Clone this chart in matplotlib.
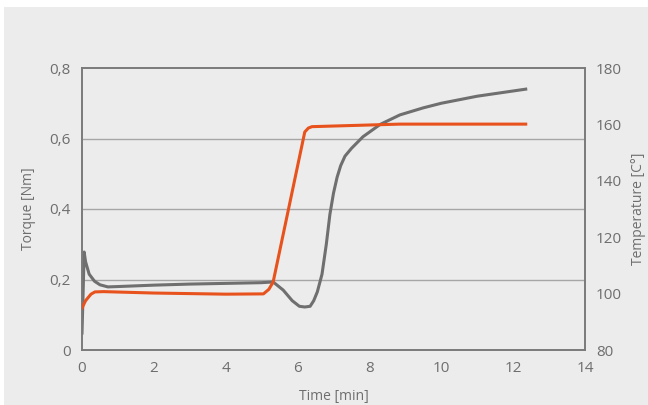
import matplotlib.pyplot as plt
from matplotlib.patches import Rectangle

plt.rcParams["font.family"] = ["Open Sans", "DejaVu Sans"]

# Torque curve (left axis)
torque_t = [0.0, 0.03, 0.06, 0.1, 0.2, 0.35, 0.5, 0.72, 1.0, 2.0, 3.0, 4.0, 5.0, 5.32,
            5.6, 5.85, 6.05, 6.2, 6.35, 6.45, 6.55, 6.68, 6.8, 6.9, 7.0, 7.1, 7.2,
            7.32, 7.5, 7.82, 8.3, 8.85, 9.5, 10.0, 11.0, 12.35]
torque_v = [0.048, 0.16, 0.278, 0.25, 0.215, 0.195, 0.185, 0.179, 0.18, 0.184, 0.187,
            0.189, 0.191, 0.193, 0.17, 0.14, 0.124, 0.122, 0.124, 0.14, 0.165, 0.215,
            0.3, 0.385, 0.445, 0.49, 0.523, 0.55, 0.572, 0.605, 0.64, 0.667, 0.687,
            0.70, 0.72, 0.74]

# Temperature curve (right axis)
temp_t = [0.0, 0.1, 0.25, 0.36, 0.6, 2.0, 4.0, 5.05, 5.2, 5.32, 6.2, 6.3, 6.4, 8.85, 12.35]
temp_v = [94.9, 97.5, 99.8, 100.6, 100.7, 100.2, 99.8, 99.9, 101.5, 104.1, 157.3,
          158.7, 159.2, 160.1, 160.1]

text_col = "#6e6e6e"
fig = plt.figure(figsize=(6.48, 4.05), dpi=100, facecolor="white")
fig.patches.append(Rectangle((4 / 648, 0), 1, 1 - 7 / 405, transform=fig.transFigure,
                             facecolor="#ececec", edgecolor="none", zorder=-10))

ax = fig.add_axes([82 / 648, 1 - 350 / 405, (585 - 82) / 648, (350 - 68) / 405])
ax.set_facecolor("#ececec")
ax.plot(torque_t, torque_v, color="#6f6f6f", lw=2.2, zorder=3)
ax.set_xlim(0, 14)
ax.set_ylim(0, 0.8)
ax.set_xticks(range(0, 15, 2))
ax.set_yticks([0, 0.2, 0.4, 0.6, 0.8])
ax.set_yticklabels(["0", "0,2", "0,4", "0,6", "0,8"])
for y in [0.2, 0.4, 0.6]:
    ax.axhline(y, color="#a6a6a6", lw=1.0, zorder=1)
ax.set_xlabel("Time [min]", color=text_col, fontsize=10, labelpad=9)
ax.set_ylabel("Torque [Nm]", color=text_col, fontsize=10, labelpad=10)

ax2 = ax.twinx()
ax2.plot(temp_t, temp_v, color="#e8521c", lw=2.2, zorder=3)
ax2.set_ylim(80, 180)
ax2.set_yticks(range(80, 181, 20))
ax2.set_ylabel("Temperature [C°]", color=text_col, fontsize=10, labelpad=6)

for a in (ax, ax2):
    a.tick_params(length=0, labelsize=11, colors=text_col, pad=8)
    for s in a.spines.values():
        s.set_color("#7a7a7a")
        s.set_linewidth(1.2)

fig.savefig("out.png", dpi=100, facecolor=fig.get_facecolor())
